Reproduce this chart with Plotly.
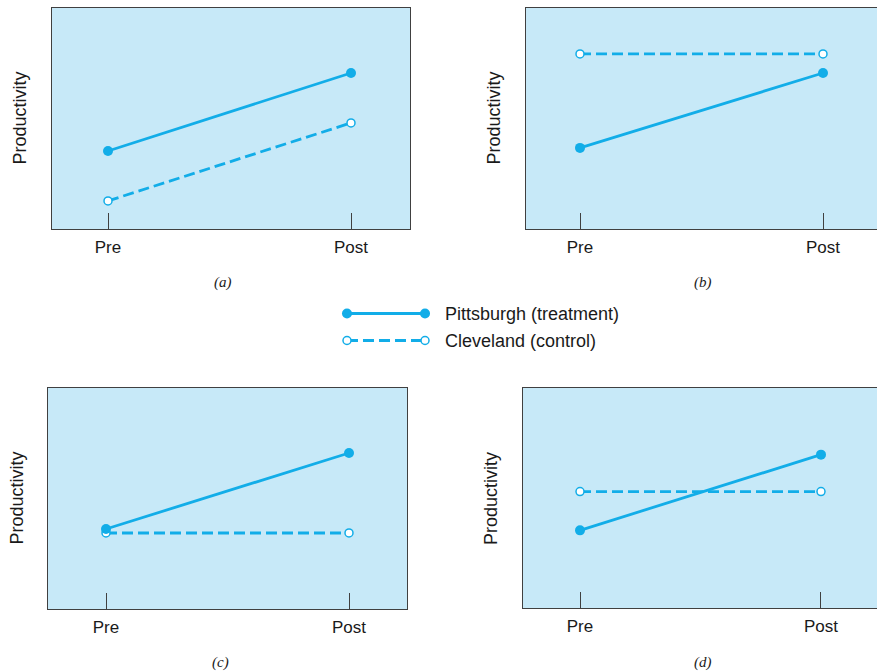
import plotly.graph_objects as go

# Pre/post productivity, four hypothetical outcome patterns
phases = ["Pre", "Post"]
series_names = ["Pittsburgh (treatment)", "Cleveland (control)"]
panel_labels = ["(a)", "(b)", "(c)", "(d)"]

pitt_a = [3.53, 7.06]
clev_a = [1.27, 4.80]
pitt_b = [3.67, 7.06]
clev_b = [7.92, 7.92]
pitt_c = [3.62, 7.06]
clev_c = [3.44, 3.44]
pitt_d = [3.53, 6.97]
clev_d = [5.29, 5.29]

W, H = 877, 672
BG = "#c7e9f8"
LINE = "#12ade8"
FRAME = "#404040"
FONT = "Liberation Sans"
DASH = "11px,5px"

# panel boxes in pixels: left, right, top, bottom, x-range, caption centre;
# the right-hand panels run off the page edge, so no right border there
panels = [
    dict(l=52, r=410, t=8, b=229, xr=[-0.2305, 1.2428], cx=223, cy=283,
         right_border=True, data=(pitt_a, clev_a)),
    dict(l=526, r=877, t=8, b=229, xr=[-0.2222, 1.2222], cx=703, cy=283,
         right_border=False, data=(pitt_b, clev_b)),
    dict(l=48, r=407, t=388, b=609, xr=[-0.2387, 1.2387], cx=220, cy=662,
         right_border=True, data=(pitt_c, clev_c)),
    dict(l=523, r=877, t=388, b=608, xr=[-0.2365, 1.2324], cx=703, cy=662,
         right_border=False, data=(pitt_d, clev_d)),
]

fig = go.Figure()
annotations = []

for i, p in enumerate(panels, start=1):
    xa = "x" if i == 1 else f"x{i}"
    ya = "y" if i == 1 else f"y{i}"
    pitt, clev = p["data"]
    fig.add_trace(go.Scatter(
        x=phases, y=clev, xaxis=xa, yaxis=ya, mode="lines+markers",
        line=dict(color=LINE, width=2.8, dash=DASH),
        marker=dict(symbol="circle", size=8, color="white",
                    line=dict(color=LINE, width=1.5)),
        cliponaxis=False, showlegend=False, name=series_names[1]))
    fig.add_trace(go.Scatter(
        x=phases, y=pitt, xaxis=xa, yaxis=ya, mode="lines+markers",
        line=dict(color=LINE, width=2.8),
        marker=dict(symbol="circle", size=10, color=LINE),
        cliponaxis=False, showlegend=False, name=series_names[0]))

    dom_x = [p["l"] / W, min(p["r"] / W, 1.0)]
    dom_y = [1 - p["b"] / H, 1 - p["t"] / H]
    key = "" if i == 1 else str(i)
    fig.update_layout({
        f"xaxis{key}": dict(
            domain=dom_x, range=p["xr"], type="category",
            categoryorder="array", categoryarray=phases,
            showgrid=False, zeroline=False, showline=True, mirror=True,
            linecolor=FRAME, linewidth=1.4,
            ticks="inside", ticklen=16, tickwidth=1.3, tickcolor=FRAME,
            ticklabelstandoff=2,
            tickfont=dict(family=FONT, size=17, color="#1a1a1a"),
            anchor=ya, fixedrange=True),
        f"yaxis{key}": dict(
            domain=dom_y, range=[0, 10], showgrid=False, zeroline=False,
            showline=True, mirror=p["right_border"], linecolor=FRAME,
            linewidth=1.4, showticklabels=False, ticks="", anchor=xa,
            fixedrange=True),
    })
    # background of the plot box
    fig.add_shape(type="rect", xref=f"{xa} domain", yref=f"{ya} domain",
                  x0=0, x1=1, y0=0, y1=1, fillcolor=BG, line_width=0,
                  layer="below")
    annotations.append(dict(
        text="Productivity", textangle=-90, xref="paper", yref="paper",
        x=(p["l"] - 32) / W, y=1 - ((p["t"] + p["b"]) / 2) / H,
        xanchor="center", yanchor="middle",
        showarrow=False, font=dict(family=FONT, size=18, color="#1a1a1a")))
    annotations.append(dict(
        text=f"<i>{panel_labels[i - 1]}</i>", xref="paper", yref="paper",
        x=p["cx"] / W, y=1 - p["cy"] / H, xanchor="center", yanchor="middle",
        showarrow=False,
        font=dict(family="Liberation Serif", size=15, color="#1a1a1a")))

# legend key drawn in its own small axes
fig.add_trace(go.Scatter(
    x=[0, 1], y=[1, 1], xaxis="x5", yaxis="y5", mode="lines+markers",
    line=dict(color=LINE, width=2.8),
    marker=dict(symbol="circle", size=10, color=LINE),
    cliponaxis=False, showlegend=False, name=series_names[0]))
fig.add_trace(go.Scatter(
    x=[0, 1], y=[0, 0], xaxis="x5", yaxis="y5", mode="lines+markers",
    line=dict(color=LINE, width=2.8, dash=DASH),
    marker=dict(symbol="circle", size=8, color="white",
                line=dict(color=LINE, width=1.5)),
    cliponaxis=False, showlegend=False, name=series_names[1]))
fig.update_layout(
    xaxis5=dict(domain=[337 / W, 435 / W], range=[-0.128, 1.128],
                visible=False, anchor="y5", fixedrange=True),
    yaxis5=dict(domain=[1 - 354 / H, 1 - 300 / H], range=[-0.5, 1.5],
                visible=False, anchor="x5", fixedrange=True),
)
for row, name in zip([1, 0], series_names):
    annotations.append(dict(
        text=name, xref="paper", yref="y5", x=443 / W, y=row,
        xanchor="left", yanchor="middle", showarrow=False,
        font=dict(family=FONT, size=18, color="#1a1a1a")))

fig.update_layout(
    width=W, height=H, margin=dict(l=0, r=0, t=0, b=0),
    paper_bgcolor="white", plot_bgcolor="rgba(0,0,0,0)",
    annotations=annotations, showlegend=False,
)

fig.write_html("out.html", config={"displayModeBar": False})
